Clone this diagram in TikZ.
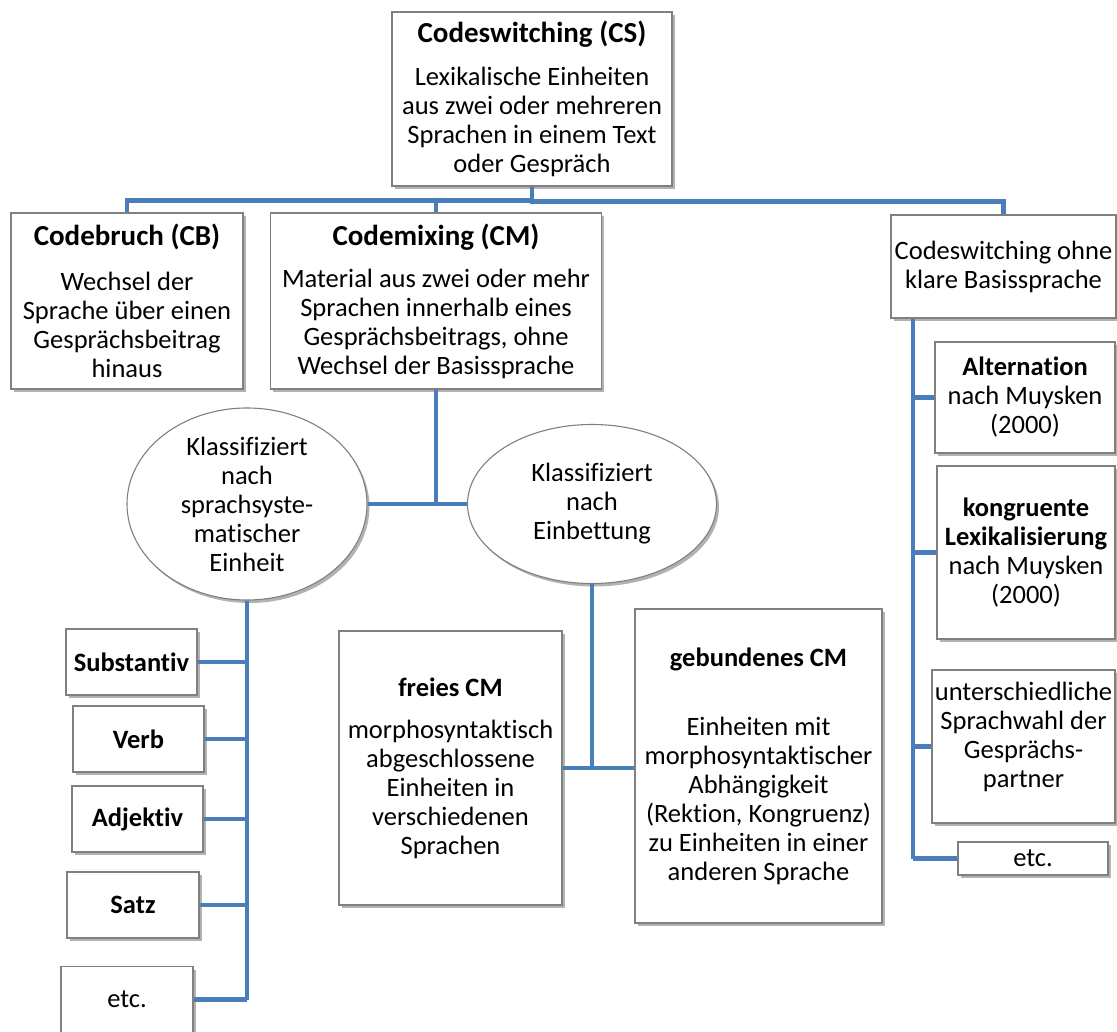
\documentclass[tikz,border=0pt]{standalone}
\usepackage{fontspec}
\setmainfont{Carlito}[Ligatures=NoCommon]
\usetikzlibrary{shapes.geometric,shadows}
\definecolor{conn}{RGB}{74,126,187}
\definecolor{bord}{RGB}{128,128,128}
\newcommand{\ttl}[1]{{\fontsize{29}{29}\selectfont\bfseries #1}}
\begin{document}
\begin{tikzpicture}[x=1pt,y=-1pt,
  every node/.style={font=\fontsize{26.5}{29}\selectfont, align=center, inner sep=0pt},
  box/.style={rectangle, draw=bord, line width=1.1pt, fill=white,
    drop shadow={shadow xshift=2.5pt, shadow yshift=-3pt, opacity=0.3, fill=black}},
  oval/.style={ellipse, draw=bord, line width=1.1pt, fill=white,
    drop shadow={shadow xshift=2.5pt, shadow yshift=-3pt, opacity=0.3, fill=black}},
  link/.style={draw=conn, line width=4.5pt}]
\useasboundingbox (0,0) rectangle (1117,1032);
\fill[white] (0,0) rectangle (1117,1032);

% top level
\node[box, minimum width=280pt, minimum height=174pt] (cs) at (532,99)
  {\ttl{Codeswitching (CS)}\\[14pt] Lexikalische Einheiten\\aus zwei oder mehreren\\Sprachen in einem Text\\oder Gespräch};

% second level
\node[box, minimum width=232pt, minimum height=176pt] (cb) at (127,301)
  {\ttl{Codebruch (CB)}\\[16pt] Wechsel der\\Sprache über einen\\Gesprächsbeitrag\\hinaus};
\node[box, minimum width=331pt, minimum height=176pt] (cm) at (436,301)
  {\ttl{Codemixing (CM)}\\[13pt] Material aus zwei oder mehr\\Sprachen innerhalb eines\\Gesprächsbeitrags, ohne\\Wechsel der Basissprache};
\node[box, minimum width=225pt, minimum height=103pt] (rt) at (1003.5,266.5)
  {Codeswitching ohne\\klare Basissprache};

% ellipses
\node[oval, minimum width=240pt, minimum height=192pt] (el) at (247,504)
  {Klassifiziert\\nach\\sprachsyste-\\matischer\\Einheit};
\node[oval, minimum width=249pt, minimum height=159pt] (er) at (592,504)
  {Klassifiziert\\nach\\Einbettung};

% left column
\node[box, minimum width=131pt, minimum height=66pt] (subst) at (131.5,662) {\textbf{Substantiv}};
\node[box, minimum width=131pt, minimum height=66pt] (verb) at (138.5,739) {\textbf{Verb}};
\node[box, minimum width=131pt, minimum height=66pt] (adj) at (137.5,819) {\textbf{Adjektiv}};
\node[box, minimum width=132pt, minimum height=66pt] (satz) at (133,905) {\textbf{Satz}};
\node[box, minimum width=132pt, minimum height=66pt] (etcl) at (127,999.5) {etc.};

% middle
\node[box, minimum width=223pt, minimum height=274pt] (fr) at (450.5,768)
  {\textbf{freies CM}\\[13pt] morphosyntaktisch\\abgeschlossene\\Einheiten in\\verschiedenen\\Sprachen};
\node[box, minimum width=247pt, minimum height=314pt] (gb) at (758.5,766)
  {\textbf{gebundenes CM}\\[40pt] Einheiten mit\\morphosyntaktischer\\Abhängigkeit\\(Rektion, Kongruenz)\\zu Einheiten in einer\\anderen Sprache};

% right column
\node[box, minimum width=180pt, minimum height=111pt] (alt) at (1025,397.5)
  {\textbf{Alternation}\\nach Muysken\\(2000)};
\node[box, minimum width=178pt, minimum height=173pt] (kong) at (1026,552.5)
  {\textbf{kongruente}\\\textbf{Lexikalisierung}\\nach Muysken\\(2000)};
\node[box, minimum width=183pt, minimum height=153pt] (unt) at (1023.5,746.5)
  {unterschiedliche\\Sprachwahl der\\Gesprächs-\\partner\\[-5pt]};
\node[box, minimum width=150pt, minimum height=33pt] (etcr) at (1033,858.5) {etc.};

% connectors
\coordinate (bus) at ([yshift=-15pt]cs.south);
\draw[link] (cs.south) -- (bus) -| (rt.north);
\draw[link] (cb.north) |- ([yshift=-14pt]cs.south);
\draw[link] (cm.north) -- ++(0,-13);
\draw[link] (cm.south) -- (cm.south |- el.east);
\draw[link] (el.east) -- (er.west);

\draw[link] (el.south) -- (el.south |- etcl.east);
\foreach \n in {subst,verb,adj,satz,etcl}
  \draw[link] (\n.east) -- (\n.east -| el.south);

\draw[link] (er.south) -- (er.south |- fr.east);
\draw[link] (fr.east) -- (fr.east -| gb.west);

\coordinate (rv) at ([xshift=-90.5pt]rt.south);
\draw[link] (rv) -- (rv |- etcr.west);
\foreach \n in {alt,kong,unt,etcr}
  \draw[link] (\n.west) -- (\n.west -| rv);
\end{tikzpicture}
\end{document}
